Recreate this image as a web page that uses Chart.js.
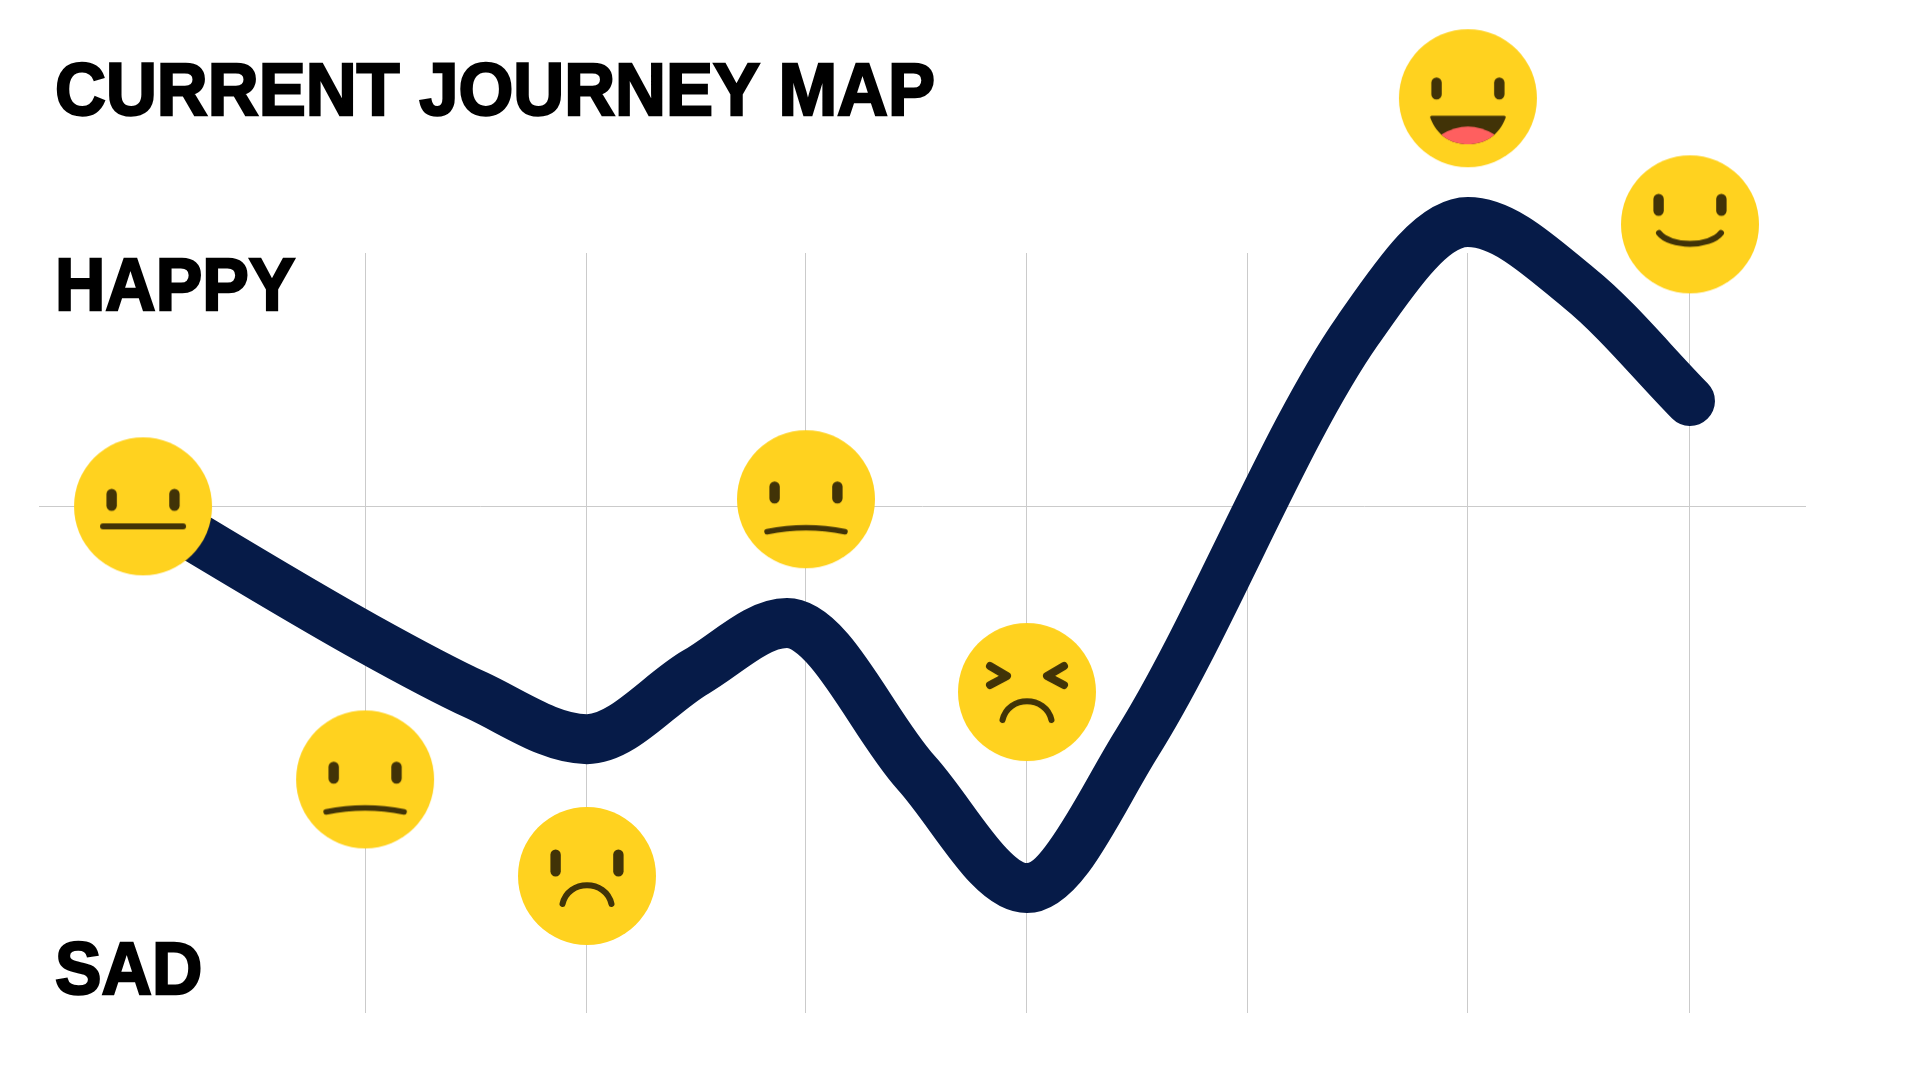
<!DOCTYPE html>
<html>
<head>
<meta charset="utf-8">
<title>Current Journey Map</title>
<script src="https://cdn.jsdelivr.net/npm/chart.js@4"></script>
<style>
  html, body { margin: 0; background: #fff; overflow: hidden; }
  #wrap { position: relative; width: 1920px; height: 1080px; }
  .label {
    position: absolute; left: 54.5px; margin: 0;
    font: bold 75px/84px "Liberation Sans", Arial, sans-serif;
    -webkit-text-stroke: 2.4px #000; color: #000; white-space: nowrap;
    transform: scaleX(0.93); transform-origin: left top;
  }
  canvas { display: block; }
</style>
</head>
<body>
<div id="wrap">
  <canvas id="journey" width="1920" height="1080"></canvas>
  <h1 class="label" style="top:47px;transform:scaleX(0.94)">CURRENT JOURNEY MAP</h1>
  <div class="label" style="top:242px">HAPPY</div>
  <div class="label" style="top:926px">SAD</div>
</div>
<script>
// journey stages, left to right (grid lines and faces)
const stages = [0, 1.005, 2.009, 3, 4, 5, 5.995, 7];
// where each face sits, null = no face at that stage
const faceLevels = [0, -1.078, -1.459, 0.028, -0.733, null, 1.611, 1.113];
const faceKinds = ['flat', 'unsure', 'sad', 'unsure', 'upset', null, 'laugh', 'smile'];
// the mood curve at its bends and long runs
const moodStages = [0, 1.005, 1.507, 2.009, 2.502, 2.914, 3.498, 4, 4.498, 5.498, 5.995, 6.498, 7];
const mood = [0, -0.516, -0.745, -0.919, -0.654, -0.461, -1.051, -1.507, -0.934, 0.696, 1.122, 0.862, 0.416];
const moodTicks = [0];

const FACE_YELLOW = '#FFD21F';
const FACE_DARK = '#413307';
const NAVY = '#061B48';
const GRID = '#CBCBCB';

function eyes(c, y, h) {
    c.fillStyle = FACE_DARK;
    [-31.4, 31.4].forEach(x => {
        c.beginPath();
        c.roundRect(x - 5.2, y - h / 2, 10.4, h, 5.2);
        c.fill();
    });
}

function stroke(c, width, path) {
    c.strokeStyle = FACE_DARK;
    c.lineWidth = width;
    c.lineCap = 'round';
    c.lineJoin = 'round';
    c.beginPath();
    path();
    c.stroke();
}

function frown(c) {
    stroke(c, 6, () => {
        c.moveTo(-24.5, 28);
        c.bezierCurveTo(-19, 3, 19, 3, 24.5, 28);
    });
}

// each face is a small canvas that Chart.js uses as its point style
const faceDrawers = {
    flat(c) {
        eyes(c, -6.5, 22);
        stroke(c, 6, () => { c.moveTo(-40, 20); c.lineTo(40, 20); });
    },
    unsure(c) {
        eyes(c, -6.7, 22);
        stroke(c, 5.5, () => { c.moveTo(-39, 32.5); c.quadraticCurveTo(0, 24.6, 39, 32.5); });
    },
    sad(c) {
        eyes(c, -13, 27);
        frown(c);
    },
    upset(c) {
        stroke(c, 8, () => {
            c.moveTo(-37, -26); c.lineTo(-20, -16); c.lineTo(-37, -7);
            c.moveTo(37, -26); c.lineTo(20, -16); c.lineTo(37, -7);
        });
        frown(c);
    },
    laugh(c) {
        eyes(c, -9.7, 22);
        c.beginPath();
        c.moveTo(-36, 17.5);
        c.lineTo(36, 17.5);
        c.quadraticCurveTo(38.5, 17.5, 37.5, 20);
        c.bezierCurveTo(31, 37, 17, 46, 0, 46);
        c.bezierCurveTo(-17, 46, -31, 37, -37.5, 20);
        c.quadraticCurveTo(-38.5, 17.5, -36, 17.5);
        c.closePath();
        c.fillStyle = FACE_DARK;
        c.fill();
        c.save();
        c.clip();
        c.beginPath();
        c.moveTo(-26, 36);
        c.quadraticCurveTo(0, 20.5, 26, 36);
        c.lineTo(26, 50);
        c.lineTo(-26, 50);
        c.closePath();
        c.fillStyle = '#FF5F5F';
        c.fill();
        c.restore();
    },
    smile(c) {
        eyes(c, -19.5, 22);
        stroke(c, 6, () => { c.moveTo(-31, 8.7); c.bezierCurveTo(-20, 23, 20, 23, 31, 8.7); });
    },
};

function makeFace(kind) {
    const cv = document.createElement('canvas');
    cv.width = 140;
    cv.height = 140;
    if (!kind) return cv;
    const c = cv.getContext('2d');
    c.translate(70, 70);
    c.fillStyle = FACE_YELLOW;
    c.beginPath();
    c.arc(0, 0, 69, 0, Math.PI * 2);
    c.fill();
    faceDrawers[kind](c);
    return cv;
}

new Chart(document.getElementById('journey'), {
    type: 'line',
    data: {
        datasets: [
            {
                label: 'Faces',
                data: stages.map((x, i) => ({ x, y: faceLevels[i] })),
                showLine: false,
                pointStyle: faceKinds.map(makeFace),
                // image points ignore the radius, but a point outside the
                // chart area is only drawn if its radius reaches back in
                pointRadius: 170,
                clip: false,
                order: 0,
            },
            {
                label: 'Mood',
                data: moodStages.map((x, i) => ({ x, y: mood[i] })),
                borderColor: NAVY,
                borderWidth: 50,
                borderCapStyle: 'round',
                borderJoinStyle: 'round',
                cubicInterpolationMode: 'monotone',
                capBezierPoints: false,
                pointRadius: 0,
                clip: false,
                order: 1,
            },
        ],
    },
    options: {
        responsive: false,
        animation: false,
        events: [],
        layout: { autoPadding: false, padding: { left: 39, right: 114, top: 253, bottom: 67 } },
        plugins: { legend: { display: false }, tooltip: { enabled: false } },
        scales: {
            x: {
                type: 'linear',
                min: -0.4706,
                max: 7.525,
                afterBuildTicks: axis => {
                    axis.ticks = stages.slice(1).map(value => ({ value }));
                },
                grid: { color: GRID, drawTicks: false },
                border: { display: false },
                ticks: { display: false },
            },
            y: {
                min: -2,
                max: 1,
                afterBuildTicks: axis => {
                    axis.ticks = moodTicks.map(value => ({ value }));
                },
                grid: { color: GRID, drawTicks: false },
                border: { display: false },
                ticks: { display: false },
            },
        },
    },
});
</script>
</body>
</html>
